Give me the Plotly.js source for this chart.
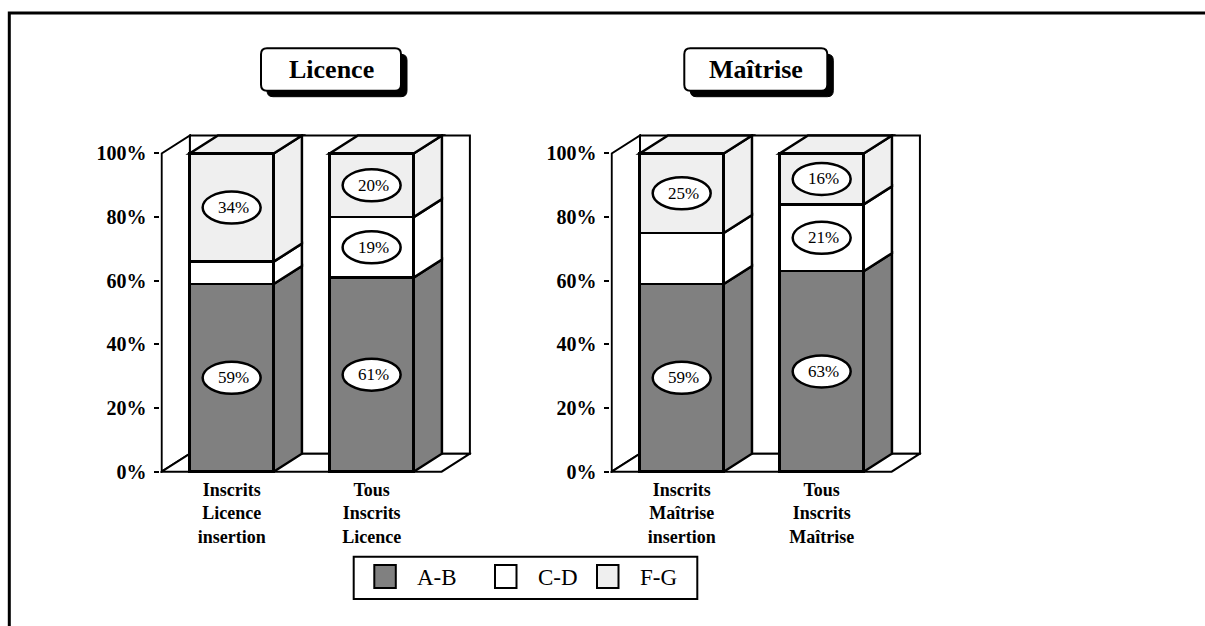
<!DOCTYPE html>
<html><head><meta charset="utf-8">
<script src="https://cdn.plot.ly/plotly-3.0.1.min.js"></script>
<style>html,body{margin:0;padding:0;background:#fff;}#chart{width:1205px;height:626px;}</style>
</head><body><div id="chart"></div>
<script>
// ---------------- data ----------------
const panelTitles = ['Licence', 'Maîtrise'];
const categoriesLicence = ['Inscrits<br>Licence<br>insertion', 'Tous<br>Inscrits<br>Licence'];
const categoriesMaitrise = ['Inscrits<br>Maîtrise<br>insertion', 'Tous<br>Inscrits<br>Maîtrise'];
const seriesNames = ['A-B', 'C-D', 'F-G'];
const licenceAB = [59, 61];
const licenceCD = [7, 19];
const licenceFG = [34, 20];
const maitriseAB = [59, 63];
const maitriseCD = [16, 21];
const maitriseFG = [25, 16];
// which segments carry a value label in the original
const licenceABLabelled = [true, true];
const licenceCDLabelled = [false, true];
const licenceFGLabelled = [true, true];
const maitriseABLabelled = [true, true];
const maitriseCDLabelled = [false, true];
const maitriseFGLabelled = [true, true];
const yTickValues = [0, 20, 40, 60, 80, 100];

// ---------------- style / geometry ----------------
const W = 1205, H = 626;
const SERIF = 'Liberation Serif, Times New Roman, serif';
const colors = ['#808080', '#ffffff', '#efefef'];
const BAR_W = 0.6;          // bar width in category units
const DX = 0.202;           // 3D depth offset, x units
const DY = 5.66;            // 3D depth offset, y units (%)
const X_RANGE = [-0.509, 1.712];
const Y_RANGE = [-0.4, 106.1];
const Y_DOMAIN = [0.24446, 0.78583];
const X_DOMAINS = [[0.13311, 0.39112], [0.50659, 0.76459]];
const LW = 2;
const BLW = 2.5;

const panels = [
  {cats: categoriesLicence, series: [licenceAB, licenceCD, licenceFG],
   labelled: [licenceABLabelled, licenceCDLabelled, licenceFGLabelled]},
  {cats: categoriesMaitrise, series: [maitriseAB, maitriseCD, maitriseFG],
   labelled: [maitriseABLabelled, maitriseCDLabelled, maitriseFGLabelled]}
];

const px = x => x / W;
const py = y => 1 - y / H;

const traces = [];
const shapes = [];
const annotations = [];

function poly(pts) {
  return 'M' + pts.map(p => p[0] + ',' + p[1]).join(' L') + ' Z';
}

panels.forEach((panel, p) => {
  const xr = p === 0 ? 'x' : 'x2';
  const yr = p === 0 ? 'y' : 'y2';
  const n = panel.cats.length;
  const idx = panel.cats.map((_, i) => i);
  const xl = -0.5, xrgt = n - 0.5;
  const top = yTickValues[yTickValues.length - 1];
  const base = {xref: xr, yref: yr, layer: 'below', line: {color: '#000', width: LW}, fillcolor: '#fff'};
  // left wall
  shapes.push(Object.assign({}, base, {type: 'path',
    path: poly([[xl, 0], [xl, top], [xl + DX, top + DY], [xl + DX, DY]])}));
  // back wall
  shapes.push(Object.assign({}, base, {type: 'rect', x0: xl + DX, y0: DY, x1: xrgt + DX, y1: top + DY}));
  // floor
  shapes.push(Object.assign({}, base, {type: 'path',
    path: poly([[xl, 0], [xrgt, 0], [xrgt + DX, DY], [xl + DX, DY]])}));

  // bars: front faces via traces
  panel.series.forEach((vals, s) => {
    traces.push({
      type: 'bar', name: seriesNames[s], x: idx, y: vals, width: BAR_W,
      xaxis: xr, yaxis: yr, showlegend: false, hoverinfo: 'skip',
      marker: {color: colors[s], line: {color: '#000', width: BLW}}
    });
  });

  // side and top faces
  idx.forEach(i => {
    const xa = i + BAR_W / 2;
    let cum = 0;
    panel.series.forEach((vals, s) => {
      const y0 = cum, y1 = cum + vals[i];
      shapes.push(Object.assign({}, base, {type: 'path', fillcolor: colors[s],
        line: {color: '#000', width: BLW},
        path: poly([[xa, y0], [xa, y1], [xa + DX, y1 + DY], [xa + DX, y0 + DY]])}));
      // value label
      if (panel.labelled[s][i]) {
        const yc = (y0 + y1) / 2;
        shapes.push({type: 'circle', xref: xr, yref: yr, layer: 'above',
          xsizemode: 'pixel', ysizemode: 'pixel', xanchor: i, yanchor: yc,
          x0: -29, x1: 29, y0: -16, y1: 16,
          fillcolor: '#fff', line: {color: '#000', width: BLW}});
        annotations.push({xref: xr, yref: yr, x: i, y: yc, xshift: 2, text: vals[i] + '%',
          showarrow: false, font: {family: SERIF, size: 17, color: '#000'}});
      }
      cum = y1;
    });
    const lastS = panel.series.length - 1;
    shapes.push(Object.assign({}, base, {type: 'path', fillcolor: colors[lastS],
      line: {color: '#000', width: BLW},
      path: poly([[i - BAR_W / 2, cum], [xa, cum], [xa + DX, cum + DY], [i - BAR_W / 2 + DX, cum + DY]])}));
  });
});

// rounded rectangle in paper coords from pixel box
function roundRect(x0, y0, x1, y1, r) {
  const P = (x, y) => px(x) + ',' + py(y);
  return 'M' + P(x0 + r, y0) + ' L' + P(x1 - r, y0) + ' Q' + P(x1, y0) + ' ' + P(x1, y0 + r) +
    ' L' + P(x1, y1 - r) + ' Q' + P(x1, y1) + ' ' + P(x1 - r, y1) +
    ' L' + P(x0 + r, y1) + ' Q' + P(x0, y1) + ' ' + P(x0, y1 - r) +
    ' L' + P(x0, y0 + r) + ' Q' + P(x0, y0) + ' ' + P(x0 + r, y0) + ' Z';
}

// panel title boxes
const titleBoxes = [[261, 48.3, 401, 90.7], [684.3, 48.3, 827.3, 90.7]];
titleBoxes.forEach((b, k) => {
  shapes.push({type: 'path', xref: 'paper', yref: 'paper', layer: 'above',
    path: roundRect(b[0] + 6, b[1] + 6, b[2] + 6, b[3] + 6, 6),
    fillcolor: '#000', line: {color: '#000', width: 1}});
  shapes.push({type: 'path', xref: 'paper', yref: 'paper', layer: 'above',
    path: roundRect(b[0], b[1], b[2], b[3], 6),
    fillcolor: '#fff', line: {color: '#000', width: LW}});
  annotations.push({xref: 'paper', yref: 'paper', x: px((b[0] + b[2]) / 2), y: py((b[1] + b[3]) / 2),
    xanchor: 'center', yanchor: 'middle', text: panelTitles[k], showarrow: false,
    font: {family: SERIF, size: 26, weight: 'bold', color: '#000'}});
});

// legend (drawn)
shapes.push({type: 'rect', xref: 'paper', yref: 'paper', layer: 'above',
  x0: px(353.7), x1: px(697.3), y0: py(599), y1: py(556.7),
  fillcolor: '#fff', line: {color: '#000', width: LW}});
const legendX = [374.3, 495, 597];
seriesNames.forEach((nm, s) => {
  const x0 = legendX[s];
  shapes.push({type: 'rect', xref: 'paper', yref: 'paper', layer: 'above',
    x0: px(x0), x1: px(x0 + 21.5), y0: py(588), y1: py(565),
    fillcolor: colors[s], line: {color: '#000', width: LW}});
  annotations.push({xref: 'paper', yref: 'paper', x: px(x0 + 40.5), y: py(577.5),
    xanchor: 'left', yanchor: 'middle', text: nm, showarrow: false,
    font: {family: SERIF, size: 23, color: '#000'}});
});

// outer frame
shapes.push({type: 'rect', xref: 'paper', yref: 'paper', layer: 'above',
  x0: px(9.3), x1: 1.2, y0: -0.2, y1: py(13), line: {color: '#000', width: 3}});

function xAxis(p) {
  return {domain: X_DOMAINS[p], range: X_RANGE, anchor: p === 0 ? 'y' : 'y2',
    tickmode: 'array', tickvals: panels[p].cats.map((_, i) => i), ticktext: panels[p].cats,
    ticks: '', showline: false, showgrid: false, zeroline: false, fixedrange: true,
    ticklabelstandoff: 4,
    tickfont: {family: SERIF, size: 18, weight: 'bold', color: '#000'}};
}
function yAxis(p) {
  return {domain: Y_DOMAIN, range: Y_RANGE, anchor: p === 0 ? 'x' : 'x2',
    tickmode: 'array', tickvals: yTickValues, ticktext: yTickValues.map(v => v + '%'),
    ticks: 'outside', ticklen: 5, tickwidth: 2, tickcolor: '#000',
    showline: false, showgrid: false, zeroline: false, fixedrange: true,
    ticklabelstandoff: 4,
    tickfont: {family: SERIF, size: 20, weight: 'bold', color: '#000'}};
}

const layout = {
  width: W, height: H, margin: {l: 0, r: 0, t: 0, b: 0},
  paper_bgcolor: '#fff', plot_bgcolor: 'rgba(0,0,0,0)',
  barmode: 'stack', showlegend: false,
  font: {family: SERIF, color: '#000'},
  xaxis: xAxis(0), yaxis: yAxis(0), xaxis2: xAxis(1), yaxis2: yAxis(1),
  shapes: shapes, annotations: annotations
};

Plotly.newPlot('chart', traces, layout, {displayModeBar: false, staticPlot: true});
</script></body></html>
